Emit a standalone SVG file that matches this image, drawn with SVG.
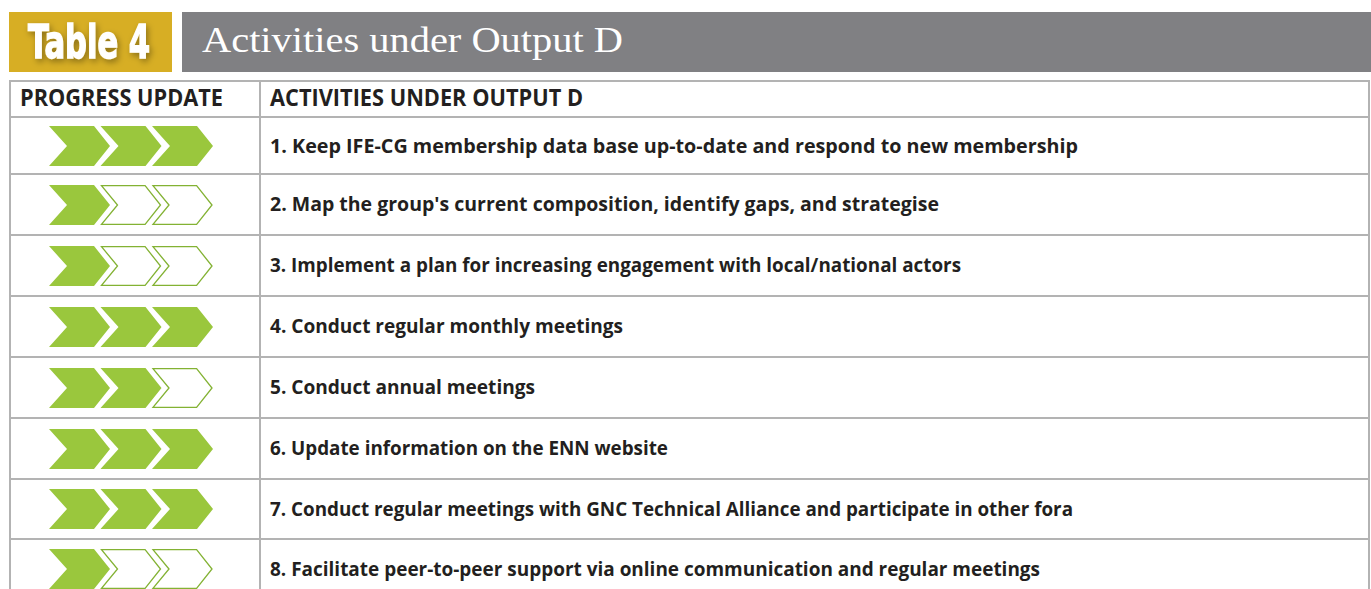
<svg xmlns="http://www.w3.org/2000/svg" xmlns:xlink="http://www.w3.org/1999/xlink" width="1371" height="589" viewBox="0 0 1371 589">
<style>
.grid{stroke:#b3b3b3;stroke-width:2;fill:none}
.hd{font-family:'Open Sans','Noto Sans','DejaVu Sans',sans-serif;font-weight:700;font-size:22.5px;fill:#231f20}
.tx{font-family:'Open Sans','Noto Sans','DejaVu Sans',sans-serif;font-weight:700;font-size:19.5px;fill:#231f20}
.on{fill:#9ac73d}
.off{fill:#ffffff;stroke:#83b233;stroke-width:1.3}
.t4{font-family:'Liberation Sans Narrow','DejaVu Sans Condensed',sans-serif;font-weight:700;font-size:47px;fill:#ffffff;stroke:#ffffff;stroke-width:1.4}
.ttl{font-family:'Liberation Serif','DejaVu Serif',serif;font-size:35px;fill:#ffffff}
</style>
<defs>
<path id="chev" d="M0,-20 H45 L61,0 L45,20 H0 L18,0 Z"/>
<path id="chevo" d="M1,-19.3 H44.6 L60,0 L44.6,19.3 H1 L17,0 Z"/>
<filter id="sh" x="-20%" y="-30%" width="140%" height="160%">
<feDropShadow dx="2" dy="3" stdDeviation="3" flood-color="#000" flood-opacity="0.35"/>
</filter>
</defs>
<rect width="1371" height="589" fill="#ffffff"/>
<g id="title">
<rect x="9" y="12" width="163" height="60" fill="#d7ae24"/>
<text class="t4" x="28" y="58" textLength="122" lengthAdjust="spacingAndGlyphs" filter="url(#sh)">Table 4</text>
<rect x="182" y="12" width="1189" height="60" fill="#808083"/>
<text class="ttl" x="202" y="52" textLength="421" lengthAdjust="spacingAndGlyphs">Activities under Output D</text>
</g>
<g id="table-grid">
<path class="grid" d="M10,589 V81 H1369 V589 M260,81 V589 M10,117 H1369 M10,174 H1369 M10,235 H1369 M10,296 H1369 M10,357 H1369 M10,418 H1369 M10,479 H1369 M10,539 H1369"/>
</g>
<g id="header-row">
<text class="hd" x="20" y="106" textLength="203" lengthAdjust="spacingAndGlyphs">PROGRESS UPDATE</text>
<text class="hd" x="270" y="106" textLength="313" lengthAdjust="spacingAndGlyphs">ACTIVITIES UNDER OUTPUT D</text>
</g>
<g id="row1">
<use href="#chev" class="on" x="49" y="146"/><use href="#chev" class="on" x="100.5" y="146"/><use href="#chev" class="on" x="152" y="146"/>
<text class="tx" x="270" y="152.5" textLength="808" lengthAdjust="spacingAndGlyphs">1. Keep IFE-CG membership data base up-to-date and respond to new membership</text>
</g>
<g id="row2">
<use href="#chev" class="on" x="49" y="205"/><use href="#chevo" class="off" x="100.5" y="205"/><use href="#chevo" class="off" x="152" y="205"/>
<text class="tx" x="270" y="211" textLength="669" lengthAdjust="spacingAndGlyphs">2. Map the group's current composition, identify gaps, and strategise</text>
</g>
<g id="row3">
<use href="#chev" class="on" x="49" y="266"/><use href="#chevo" class="off" x="100.5" y="266"/><use href="#chevo" class="off" x="152" y="266"/>
<text class="tx" x="270" y="272" textLength="691" lengthAdjust="spacingAndGlyphs">3. Implement a plan for increasing engagement with local/national actors</text>
</g>
<g id="row4">
<use href="#chev" class="on" x="49" y="327"/><use href="#chev" class="on" x="100.5" y="327"/><use href="#chev" class="on" x="152" y="327"/>
<text class="tx" x="270" y="333" textLength="353" lengthAdjust="spacingAndGlyphs">4. Conduct regular monthly meetings</text>
</g>
<g id="row5">
<use href="#chev" class="on" x="49" y="388"/><use href="#chev" class="on" x="100.5" y="388"/><use href="#chevo" class="off" x="152" y="388"/>
<text class="tx" x="270" y="394" textLength="265" lengthAdjust="spacingAndGlyphs">5. Conduct annual meetings</text>
</g>
<g id="row6">
<use href="#chev" class="on" x="49" y="449"/><use href="#chev" class="on" x="100.5" y="449"/><use href="#chev" class="on" x="152" y="449"/>
<text class="tx" x="270" y="455" textLength="398" lengthAdjust="spacingAndGlyphs">6. Update information on the ENN website</text>
</g>
<g id="row7">
<use href="#chev" class="on" x="49" y="509"/><use href="#chev" class="on" x="100.5" y="509"/><use href="#chev" class="on" x="152" y="509"/>
<text class="tx" x="270" y="515.5" textLength="803" lengthAdjust="spacingAndGlyphs">7. Conduct regular meetings with GNC Technical Alliance and participate in other fora</text>
</g>
<g id="row8">
<use href="#chev" class="on" x="49" y="569"/><use href="#chevo" class="off" x="100.5" y="569"/><use href="#chevo" class="off" x="152" y="569"/>
<text class="tx" x="270" y="575.5" textLength="770" lengthAdjust="spacingAndGlyphs">8. Facilitate peer-to-peer support via online communication and regular meetings</text>
</g>
<g id="connectors"/>
</svg>
